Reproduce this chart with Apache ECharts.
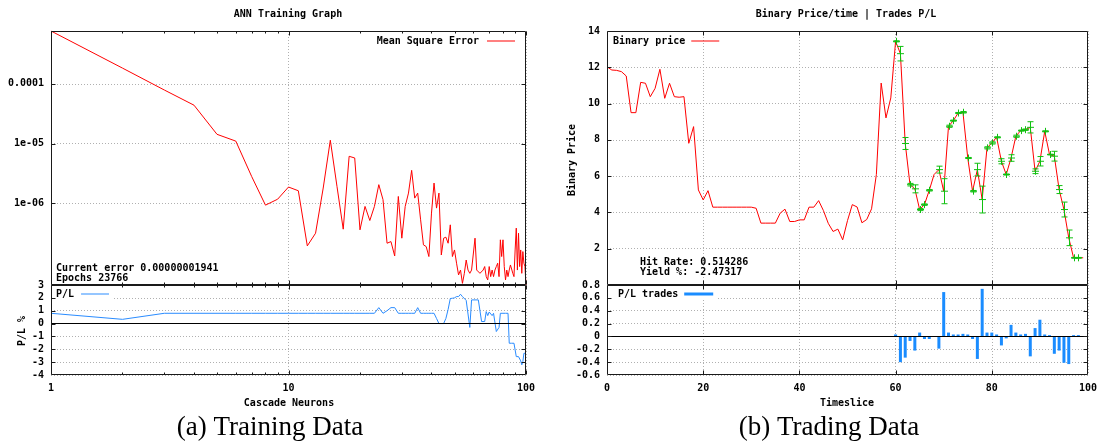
<!DOCTYPE html>
<html>
<head>
<meta charset="utf-8">
<script src="https://cdn.jsdelivr.net/npm/echarts@6/dist/echarts.min.js"></script>
<style>
  html, body { margin: 0; padding: 0; background: #fff; }
  #chart { width: 1102px; height: 447px; }
</style>
</head>
<body>
<div id="chart"></div>
<script>
// Mean square error after each cascade neuron is added (neurons 1..100)
const mseValues = [
  7.7e-4, 1.84e-4, 7.9e-5, 4.4e-5, 1.43e-5, 1.1e-5, 2.8e-6, 9.3e-7, 1.17e-6, 1.87e-6,
  1.62e-6, 1.93e-7, 3.15e-7, 1.8e-6, 1.14e-5, 1.92e-6, 3.68e-7, 6.12e-6, 5.74e-6, 3.59e-7,
  8.85e-7, 5.14e-7, 8.85e-7, 2.05e-6, 1.15e-6, 2.14e-7, 2.28e-7, 1.31e-7, 1.3e-6, 2.6e-7,
  8.85e-7, 1.48e-6, 3.56e-6, 1.22e-6, 1.48e-6, 5.28e-7, 2.01e-7, 1.88e-7, 1.28e-7, 6.84e-7,
  2.18e-6, 8.3e-7, 1.48e-6, 1.36e-7, 2.6e-7, 2.7e-7, 2.14e-7, 4.35e-7, 1.28e-7, 1.65e-7,
  9.9e-8, 6.3e-8, 7.6e-8, 4.55e-8, 6.7e-8, 1.12e-7, 7.6e-8, 6.7e-8, 7.6e-8, 7.6e-8,
  2.6e-7, 7.6e-8, 7.15e-8, 6.7e-8, 6.9e-8, 7.6e-8, 8.7e-8, 5.9e-8, 5.2e-8, 8.7e-8,
  5.9e-8, 7.6e-8, 5.9e-8, 7.6e-8, 8.7e-8, 9.9e-8, 5.9e-8, 2.44e-7, 1.28e-7, 2.44e-7,
  8.7e-8, 5.2e-8, 7.6e-8, 5.9e-8, 7.6e-8, 9.25e-8, 8.7e-8, 6.7e-8, 5.9e-8, 1.65e-7,
  3.83e-7, 7.6e-8, 3.15e-7, 8.7e-8, 1.65e-7, 6.7e-8, 1.55e-7, 9.9e-8, 8.7e-8, 4.27e-8
];
// Trading P/L (%) measured after each cascade neuron (neurons 1..100)
const plPercent = [
  0.8, 0.33, 0.8, 0.8, 0.8, 0.8, 0.8, 0.8, 0.8, 0.8,
  0.8, 0.8, 0.8, 0.8, 0.8, 0.8, 0.8, 0.8, 0.8, 0.8,
  0.8, 0.8, 0.8, 1.24, 0.8, 1.0, 1.24, 1.24, 0.8, 0.8,
  0.8, 0.8, 0.8, 0.8, 1.24, 0.8, 0.8, 0.8, 0.8, 0.8,
  0.8, 0.4, 0, 0, 0, 0.4, 1.1, 1.95, 1.97, 2.0,
  2.1, 2.1, 2.28, 2.1, 1.95, 1.8, 1.75, -0.3, 1.84, 1.84,
  1.84, 1.84, 1.84, 1.7, 0.16, 0.16, 0.16, 0.93, 0.62, 0.9,
  0.8, 0.62, 0.8, 0.8, -0.62, -0.62, -0.3, 0.8, 0.8, 0.8,
  0.8, 0.8, 0.8, 0.8, -1.53, -1.53, -1.53, -1.53, -1.53, -1.53,
  -2.57, -2.57, -2.57, -2.57, -2.9, -3.21, -2.96, -2.31, -2.31, -2.31
];
// Binary option price per timeslice (0..99)
const binaryPrice = [
  12.03, 11.85, 11.83, 11.76, 11.52, 9.5, 9.5, 11.17, 11.12, 10.38,
  10.84, 11.89, 10.29, 11.12, 10.38, 10.35, 10.38, 7.81, 8.73, 5.24,
  4.69, 5.2, 4.29, 4.29, 4.29, 4.29, 4.29, 4.29, 4.29, 4.29,
  4.29, 4.23, 3.41, 3.41, 3.41, 3.41, 3.96, 4.18, 3.5, 3.5,
  3.59, 3.59, 4.29, 4.29, 4.65, 4.1, 3.4, 2.95, 3.08, 2.49,
  3.55, 4.43, 4.3, 3.43, 3.61, 4.2, 6.09, 11.13, 9.21, 10.31,
  13.43, 12.75, 7.8, 5.53, 5.3, 4.16, 4.43, 5.22, 6.09, 6.36,
  5.17, 8.75, 9.06, 9.48, 9.52, 7.0, 5.17, 6.36, 4.71, 7.56,
  7.83, 8.14, 6.82, 6.09, 7.0, 8.2, 8.51, 8.56, 8.69, 6.27,
  6.82, 8.47, 7.19, 7.1, 5.26, 4.16, 2.6, 1.5, 1.5, 1.5
];
// P/L of the trade opened in each timeslice, starting at tradeFirstSlice (null = no trade)
const tradeFirstSlice = 60;
const tradePL = [
  0.03, -0.40, -0.33, -0.07, -0.22, 0.06, -0.04, -0.04, null, -0.19,
  0.69, 0.06, 0.03, 0.03, 0.04, 0.03, -0.04, -0.35, 0.74, 0.06,
  0.06, 0.03, -0.14, -0.03, 0.18, 0.06, 0.03, 0.04, -0.31, 0.13,
  0.26, 0.03, 0.02, -0.27, -0.22, -0.41, -0.43, 0.02, 0.02
];

// Axis ticks and labels
const logMajorTicks = [1, 10, 100];
const logMinorTicks = [2, 3, 4, 5, 6, 7, 8, 9, 20, 30, 40, 50, 60, 70, 80, 90];
const mseRange = [4.27e-8, 7.7e-4];
const mseTickValues = [1e-4, 1e-5, 1e-6];
const mseTickLabels = ['0.0001', '1e-05', '1e-06'];
const plTickValues = [-3, -2, -1, 0, 1, 2];
const timeTickValues = [20, 40, 60, 80];
const priceTickValues = [2, 4, 6, 8, 10, 12];
const tradeTickValues = [-0.4, -0.2, 0, 0.2, 0.4, 0.6];

const FONT = "'DejaVu Sans Mono', monospace";
const MONO = `bold 10px ${FONT}`;
const INK = '#1a1a1a';
const GRID_LINE = { show: true, lineStyle: { color: '#b0b0b0', width: 1, type: [1, 2] } };
const LABEL = { fontFamily: FONT, fontSize: 10, fontWeight: 'bold', color: '#000' };

const mseSeries = mseValues.map((v, i) => [i + 1, v]);
const plSeries = plPercent.map((v, i) => [i + 1, v]);
const priceSeries = binaryPrice.map((v, i) => [i, v]);
const trades = [];
tradePL.forEach((pl, i) => {
  if (pl === null) return;
  const slice = tradeFirstSlice + i;
  trades.push({ slice, price: binaryPrice[slice], pl });
});

// Frame plus inward tick marks on all four sides of one plot panel
function frameSeries(idx, xTicks, yTicks, refX, refY) {
  const data = [];
  xTicks.forEach(t => data.push([t.v, refY, 0, t.len]));
  yTicks.forEach(v => data.push([refX, v, 1, 4]));
  return {
    type: 'custom', xAxisIndex: idx, yAxisIndex: idx, silent: true, z: 20,
    clip: false, data,
    renderItem(params, api) {
      const cs = params.coordSys;
      const style = { stroke: INK, lineWidth: 1, fill: null };
      const p = api.coord([api.value(0), api.value(1)]);
      const L = api.value(3);
      const kids = [];
      const left = cs.x + 0.5, right = cs.x + cs.width - 0.5;
      const top = cs.y + 0.5, bottom = cs.y + cs.height - 0.5;
      if (params.dataIndex === 0) {
        kids.push({ type: 'rect', shape: { x: left, y: top, width: right - left, height: bottom - top }, style });
      }
      if (api.value(2) === 0) {
        const x = Math.round(p[0]) + 0.5;
        kids.push({ type: 'line', shape: { x1: x, y1: top, x2: x, y2: top + L }, style });
        kids.push({ type: 'line', shape: { x1: x, y1: bottom, x2: x, y2: bottom - L }, style });
      } else {
        const y = Math.round(p[1]) + 0.5;
        kids.push({ type: 'line', shape: { x1: left, y1: y, x2: left + L, y2: y }, style });
        kids.push({ type: 'line', shape: { x1: right, y1: y, x2: right - L, y2: y }, style });
      }
      return { type: 'group', children: kids };
    }
  };
}

const logXTicks = logMajorTicks.map(v => ({ v, len: 4 })).concat(logMinorTicks.map(v => ({ v, len: 2 })));
const linXTicks = timeTickValues.map(v => ({ v, len: 4 }));

const zeroLine = {
  silent: true, symbol: 'none', label: { show: false },
  lineStyle: { color: '#000', width: 1, type: 'solid' },
  data: [{ yAxis: 0 }]
};

function fmtTrade(v) {
  const r = Math.round(v * 10) / 10;
  return r === 0 ? '0' : r.toFixed(1);
}

function label(text, x, y, extra) {
  return Object.assign({ type: 'text', x, y, z: 30,
    style: { text, align: 'left', verticalAlign: 'middle', font: MONO, fill: '#000' } }, extra || {});
}

const chart = echarts.init(document.getElementById('chart'), null, { renderer: 'canvas' });
chart.setOption({
  animation: false,
  backgroundColor: '#fff',
  grid: [
    { left: 51, top: 31, width: 475, height: 254 },
    { left: 51, top: 285, width: 475, height: 90 },
    { left: 607, top: 31, width: 481, height: 254 },
    { left: 607, top: 285, width: 481, height: 90 }
  ],
  xAxis: [
    { gridIndex: 0, type: 'log', min: 1, max: 100, axisLine: { show: false }, axisTick: { show: false },
      axisLabel: { show: false }, splitLine: GRID_LINE },
    { gridIndex: 1, type: 'log', min: 1, max: 100, axisLine: { show: false }, axisTick: { show: false },
      axisLabel: Object.assign({ margin: 8, showMinLabel: true, showMaxLabel: true }, LABEL), splitLine: GRID_LINE },
    { gridIndex: 2, type: 'value', min: 0, max: 100, interval: 20, axisLine: { show: false }, axisTick: { show: false },
      axisLabel: { show: false }, splitLine: GRID_LINE },
    { gridIndex: 3, type: 'value', min: 0, max: 100, interval: 20, axisLine: { show: false }, axisTick: { show: false },
      axisLabel: Object.assign({ margin: 8, showMinLabel: true, showMaxLabel: true }, LABEL), splitLine: GRID_LINE }
  ],
  yAxis: [
    { gridIndex: 0, type: 'log', min: mseRange[0], max: mseRange[1], axisLine: { show: false },
      axisTick: { show: false, customValues: mseTickValues },
      axisLabel: Object.assign({
        margin: 7, customValues: mseTickValues,
        formatter: v => {
          const k = mseTickValues.findIndex(t => Math.abs(t - v) / t < 1e-6);
          return k >= 0 ? mseTickLabels[k] : '';
        }
      }, LABEL),
      splitLine: GRID_LINE },
    { gridIndex: 1, type: 'value', min: -4, max: 3, interval: 1, axisLine: { show: false }, axisTick: { show: false },
      axisLabel: Object.assign({ margin: 7, showMinLabel: true, showMaxLabel: true }, LABEL), splitLine: GRID_LINE },
    { gridIndex: 2, type: 'value', min: 0, max: 14, interval: 2, axisLine: { show: false }, axisTick: { show: false },
      axisLabel: Object.assign({ margin: 7, formatter: v => (v === 0 ? '' : String(v)) }, LABEL), splitLine: GRID_LINE },
    { gridIndex: 3, type: 'value', min: -0.6, max: 0.8, interval: 0.2, axisLine: { show: false }, axisTick: { show: false },
      axisLabel: Object.assign({ margin: 7, showMinLabel: true, showMaxLabel: true, formatter: fmtTrade }, LABEL),
      splitLine: GRID_LINE }
  ],
  legend: [
    { data: [{ name: 'Mean Square Error', icon: 'rect' }], right: 1102 - 515, top: 36, align: 'right',
      itemWidth: 28, itemHeight: 1, padding: 0, selectedMode: false,
      textStyle: Object.assign({ padding: [0, 3, 0, 0] }, LABEL) },
    { data: [{ name: 'P/L', icon: 'rect' }], left: 52, top: 287, align: 'right',
      itemWidth: 28, itemHeight: 1, padding: [2, 3, 2, 4], backgroundColor: '#fff', selectedMode: false,
      textStyle: Object.assign({ padding: [0, 2, 0, 0] }, LABEL) },
    { data: [{ name: 'Binary price', icon: 'rect' }], left: 613, top: 36, align: 'right',
      itemWidth: 28, itemHeight: 1, padding: 0, selectedMode: false,
      textStyle: Object.assign({ padding: [0, 1, 0, 0] }, LABEL) },
    { data: [{ name: 'P/L trades', icon: 'rect' }], left: 608, top: 288, align: 'right',
      itemWidth: 29, itemHeight: 3, padding: [1, 4, 1, 10], backgroundColor: '#fff', selectedMode: false,
      textStyle: Object.assign({ padding: [0, 1, 0, 0] }, LABEL) }
  ],
  series: [
    { name: 'Mean Square Error', type: 'line', xAxisIndex: 0, yAxisIndex: 0, data: mseSeries,
      showSymbol: false, color: '#ff0000', lineStyle: { width: 1, color: '#ff0000' } },
    { name: 'P/L', type: 'line', xAxisIndex: 1, yAxisIndex: 1, data: plSeries,
      showSymbol: false, color: '#2a8cff', lineStyle: { width: 1, color: '#2a8cff' }, markLine: zeroLine },
    { name: 'Binary price', type: 'line', xAxisIndex: 2, yAxisIndex: 2, data: priceSeries,
      showSymbol: false, color: '#ff0000', lineStyle: { width: 1, color: '#ff0000' } },
    { name: 'P/L trades', type: 'bar', xAxisIndex: 3, yAxisIndex: 3, barWidth: 3,
      data: trades.map(t => [t.slice, t.pl]), color: '#1a8cff', itemStyle: { color: '#1a8cff' }, markLine: zeroLine },
    // Trade entries on the price curve: "+" marker with a bar spanning the trade's P/L
    { type: 'custom', xAxisIndex: 2, yAxisIndex: 2, silent: true, z: 6,
      data: trades.map(t => [t.slice, t.price, t.pl]),
      renderItem(params, api) {
        const n = api.value(0), p = api.value(1), d = Math.abs(api.value(2));
        const c = api.coord([n, p]), hi = api.coord([n, p + d]), lo = api.coord([n, p - d]);
        const x = Math.round(c[0]) + 0.5;
        const style = { stroke: '#10c010', lineWidth: 1 };
        const seg = (x1, y1, x2, y2) => ({ type: 'line', shape: { x1, y1, x2, y2 }, style });
        return { type: 'group', children: [
          seg(x, hi[1], x, lo[1]),
          seg(x - 3, hi[1], x + 3, hi[1]),
          seg(x - 3, lo[1], x + 3, lo[1]),
          seg(x - 3.5, c[1], x + 3.5, c[1]),
          seg(x, c[1] - 3.5, x, c[1] + 3.5)
        ] };
      } },
    frameSeries(0, logXTicks, mseTickValues, 1, 1e-6),
    frameSeries(1, logXTicks, plTickValues, 1, 0),
    frameSeries(2, linXTicks, priceTickValues, 0, 5),
    frameSeries(3, linXTicks, tradeTickValues, 0, 0)
  ],
  graphic: [
    label('ANN Training Graph', 288, 14, { style: { text: 'ANN Training Graph', align: 'center', verticalAlign: 'middle', font: MONO, fill: '#000' } }),
    label('Binary Price/time | Trades P/L', 846, 14, { style: { text: 'Binary Price/time | Trades P/L', align: 'center', verticalAlign: 'middle', font: MONO, fill: '#000' } }),
    label('Current error 0.00000001941', 56, 268),
    label('Epochs 23766', 56, 278),
    label('Hit Rate: 0.514286', 640, 262),
    label('Yield %: -2.47317', 640, 272),
    { type: 'text', x: 22, y: 331, rotation: Math.PI / 2, style: { text: 'P/L %', align: 'center', verticalAlign: 'middle', font: MONO, fill: '#000' } },
    { type: 'text', x: 572, y: 160, rotation: Math.PI / 2, style: { text: 'Binary Price', align: 'center', verticalAlign: 'middle', font: MONO, fill: '#000' } },
    { type: 'text', x: 289, y: 403, style: { text: 'Cascade Neurons', align: 'center', verticalAlign: 'middle', font: MONO, fill: '#000' } },
    { type: 'text', x: 847, y: 403, style: { text: 'Timeslice', align: 'center', verticalAlign: 'middle', font: MONO, fill: '#000' } },
    { type: 'text', x: 270, y: 428, style: { text: '(a) Training Data', align: 'center', verticalAlign: 'middle', font: "27px 'Liberation Serif', serif", fill: '#000' } },
    { type: 'text', x: 829, y: 428, style: { text: '(b) Trading Data', align: 'center', verticalAlign: 'middle', font: "27px 'Liberation Serif', serif", fill: '#000' } }
  ]
});
</script>
</body>
</html>
